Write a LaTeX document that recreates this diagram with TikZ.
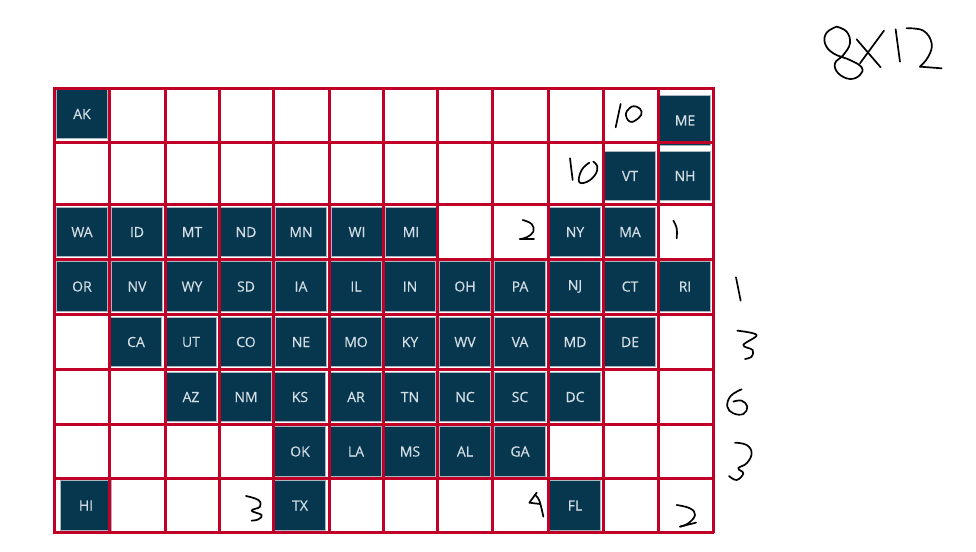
\documentclass[tikz,border=0pt]{standalone}
\usepackage{fontspec}
\setmainfont{Open Sans}
\newfontfamily\tilefont[FakeBold=0.35]{Open Sans}
\definecolor{tilefill}{HTML}{07374F}
\definecolor{tileedge}{HTML}{A9B6BE}
\definecolor{tiletext}{HTML}{D3DEE4}
\definecolor{gridred}{HTML}{C00026}
\tikzset{
  tile/.style={draw=tileedge,line width=.8pt,fill=tilefill,text=tiletext,inner sep=0pt,
    minimum width=50.5pt,minimum height=49.5pt,font=\tilefont\fontsize{14}{15}\selectfont},
  gridline/.style={draw=gridred,line width=3pt},
  ink/.style={draw=black,line width=1.7pt,line cap=round,line join=round},
  zA/.style={shift={(530pt,-10pt)},x=.3333pt,y=-.3333pt},
  zB/.style={shift={(530pt,-260pt)},x=.3333pt,y=-.3333pt},
  zC/.style={shift={(370pt,-200pt)},x=.3333pt,y=-.3333pt},
  zD/.style={shift={(490pt,-480pt)},x=.3333pt,y=-.3333pt},
  zE/.style={shift={(40pt,-360pt)},x=.3333pt,y=-.3333pt},
}
\newcommand{\tileat}[3]{\node[tile] (#1) at (#2,#3) {#1};}
\begin{document}
\begin{tikzpicture}[x=1pt,y=-1pt]
\useasboundingbox (0,0) rectangle (976,551);
\fill[white] (0,0) rectangle (976,551);
% tiles
\tileat{AK}{82}{114}
\tileat{ME}{685}{120.5}
\tileat{VT}{630}{176}
\tileat{NH}{685}{176}
\foreach \n/\x in {WA/82,ID/137,MT/192,ND/246,MN/301,WI/357,MI/411,NY/575,MA/630}{\tileat{\n}{\x}{232}}
\foreach \n/\x in {OR/82,NV/137,WY/192,SD/246,IA/301,IL/356,IN/410,OH/465,PA/520,NJ/575,CT/630,RI/685}{\tileat{\n}{\x}{286.5}}
\foreach \n/\x in {CA/136,UT/191,CO/246,NE/301,MO/356,KY/410,WV/465,VA/520,MD/575,DE/630}{\tileat{\n}{\x}{342}}
\foreach \n/\x in {AZ/191,NM/246,KS/300,AR/356,TN/410,NC/465,SC/520,DC/575}{\tileat{\n}{\x}{397}}
\foreach \n/\x in {OK/300,LA/356,MS/410,AL/465,GA/520}{\tileat{\n}{\x}{451.5}}
\tileat{HI}{86}{505.5}
\tileat{TX}{300}{505.5}
\tileat{FL}{575}{505.5}
% grid
\foreach \x in {54,109,165,219,273,329,383,437,492.5,548,603,658,713}{\draw[gridline] (\x,87) -- (\x,533);}
\foreach \y in {88,142.5,204,259,314,369.5,424.5,478.5,532}{\draw[gridline] (53,\y) -- (714,\y);}
% handwriting: 8x12
\begin{scope}[zA]
\draw[ink] plot[smooth,tension=.7] coordinates {(920,50)(890,68)(885,100)(910,130)(960,150)(995,172)(990,195)(960,207)(925,190)(915,160)(940,135)(960,100)(950,65)(920,50)};
\draw[ink] (980,88) -- (1052,172);
\draw[ink] (1062,62) -- (990,160);
\draw[ink] (1097,58) -- (1110,155);
\draw[ink] plot[smooth,tension=.7] coordinates {(1130,55)(1180,62)(1205,100)(1195,140)(1170,170)};
\draw[ink] (1170,170) -- (1235,175);
% 10 top
\draw[ink] (272,282) -- (257,352);
\draw[ink] plot[smooth,tension=.8] coordinates {(305,290)(288,310)(300,335)(325,325)(335,305)(320,290)(305,290)};
% 10 second
\draw[ink] (120,445) -- (128,510);
\draw[ink] plot[smooth,tension=.7] coordinates {(178,458)(155,480)(147,515)(170,516)(195,495)(202,470)(190,455)};
% 1
\draw[ink] plot[smooth,tension=.7] coordinates {(430,632)(440,655)(440,685)};
\end{scope}
\begin{scope}[zB]
\draw[ink] (618,52) -- (632,122);
\draw[ink] plot[smooth,tension=.6] coordinates {(622,212)(680,225)(640,255)(668,270)(665,290)(645,297)};
\draw[ink] plot[smooth,tension=.7] coordinates {(635,388)(602,408)(592,440)(610,460)(640,462)(652,440)(635,422)(610,425)};
\draw[ink] plot[smooth,tension=.7] coordinates {(615,548)(650,555)(665,580)(650,610)(625,625)(640,640)(620,660)(597,648)};
\draw[ink] plot[smooth,tension=.7] coordinates {(440,735)(480,745)(495,765)(475,790)(450,800)};
\draw[ink] (450,800) -- (498,788);
\end{scope}
\begin{scope}[zC]
\draw[ink] plot[smooth,tension=.7] coordinates {(458,60)(485,72)(490,95)(470,112)(450,117)};
\draw[ink] (450,117) -- (492,117);
\end{scope}
\begin{scope}[zD]
\draw[ink] (140,38) -- (118,68) -- (150,72);
\draw[ink] plot[smooth,tension=.7] coordinates {(135,45)(148,62)(160,110)};
\end{scope}
\begin{scope}[zE]
\draw[ink] plot[smooth,tension=.7] coordinates {(618,408)(655,420)(660,440)(635,452)(665,465)(655,478)(635,482)};
\end{scope}
\end{tikzpicture}
\end{document}
